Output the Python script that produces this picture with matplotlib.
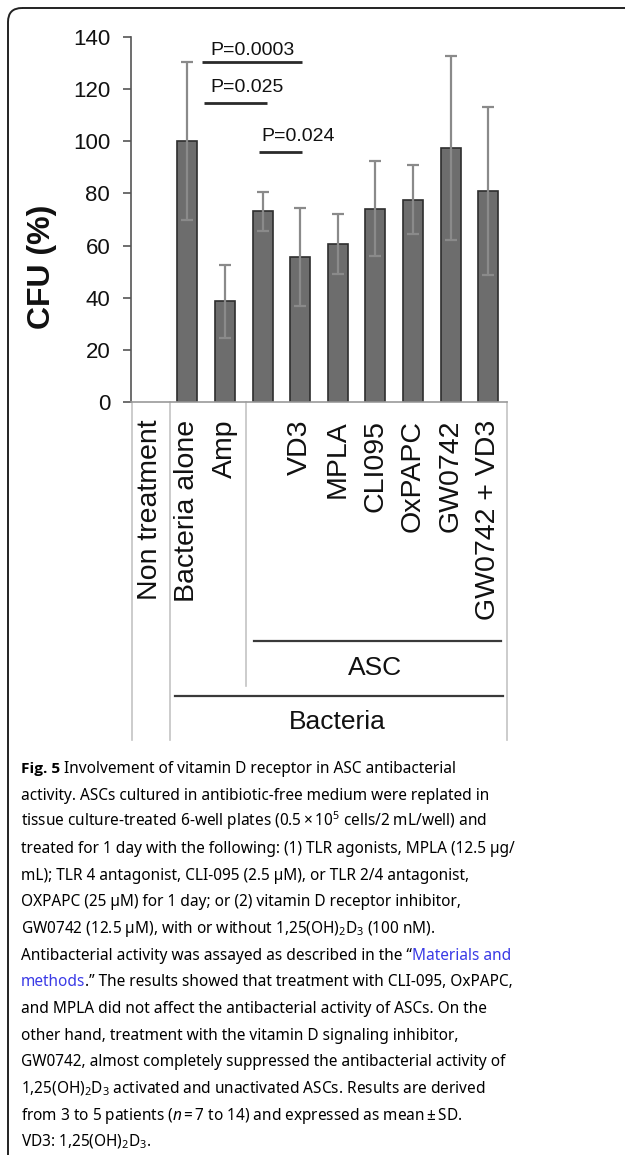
import numpy as np
import matplotlib
matplotlib.use('Agg')
import matplotlib.pyplot as plt
from matplotlib.patches import FancyBboxPatch

plt.rcParams['font.family'] = ['Liberation Sans', 'DejaVu Sans']
plt.rcParams['mathtext.fontset'] = 'custom'
plt.rcParams['mathtext.rm'] = 'Noto Sans'
plt.rcParams['mathtext.it'] = 'Noto Sans:italic'

# data
categories = ['Non treatment', 'Bacteria alone', 'Amp', '', 'VD3', 'MPLA',
              'CLI095', 'OxPAPC', 'GW0742', 'GW0742 + VD3']
cfu_mean = [np.nan, 100.0, 38.6, 73.1, 55.7, 60.6, 74.2, 77.6, 97.3, 80.8]
cfu_sd = [np.nan, 30.2, 14.0, 7.4, 18.7, 11.5, 18.2, 13.1, 35.3, 32.1]
yticks = [0, 20, 40, 60, 80, 100, 120, 140]

p_labels = ['P=0.0003', 'P=0.025', 'P=0.024']
p_left = [1.38, 1.44, 2.90]
p_right = [4.04, 3.11, 4.04]
p_line_y = [130.2, 114.5, 96.0]
p_text_x = [2.74, 2.58, 3.94]
p_text_y = [134.9, 120.5, 101.9]

blue = '#3a3ae6'
caption = [
    [('Fig. 5', 'bold', 'k'), (' Involvement of vitamin D receptor in ASC antibacterial', 'normal', 'k')],
    [('activity. ASCs cultured in antibiotic-free medium were replated in', 'normal', 'k')],
    [('tissue culture-treated 6-well plates (0.5\u2009\u00d7\u200910$^5$ cells/2 mL/well) and', 'normal', 'k')],
    [('treated for 1 day with the following: (1) TLR agonists, MPLA (12.5 \u00b5g/', 'normal', 'k')],
    [('mL); TLR 4 antagonist, CLI-095 (2.5 \u00b5M), or TLR 2/4 antagonist,', 'normal', 'k')],
    [('OXPAPC (25 \u00b5M) for 1 day; or (2) vitamin D receptor inhibitor,', 'normal', 'k')],
    [('GW0742 (12.5 \u00b5M), with or without 1,25(OH)$_2$D$_3$ (100 nM).', 'normal', 'k')],
    [('Antibacterial activity was assayed as described in the \u201c', 'normal', 'k'), ('Materials and', 'normal', blue)],
    [('methods', 'normal', blue), ('.\u201d The results showed that treatment with CLI-095, OxPAPC,', 'normal', 'k')],
    [('and MPLA did not affect the antibacterial activity of ASCs. On the', 'normal', 'k')],
    [('other hand, treatment with the vitamin D signaling inhibitor,', 'normal', 'k')],
    [('GW0742, almost completely suppressed the antibacterial activity of', 'normal', 'k')],
    [('1,25(OH)$_2$D$_3$ activated and unactivated ASCs. Results are derived', 'normal', 'k')],
    [('from 3 to 5 patients ($n$\u2009=\u20097 to 14) and expressed as mean\u2009\u00b1\u2009SD.', 'normal', 'k')],
    [('VD3: 1,25(OH)$_2$D$_3$.', 'normal', 'k')],
]

fig = plt.figure(figsize=(6.25, 11.55), dpi=100)
ax = fig.add_axes([131 / 625, 1 - 402.3 / 1155, 376 / 625, 365.6 / 1155])

x = np.arange(len(categories))
ax.bar(x, cfu_mean, width=0.53, color='#6d6d6d', edgecolor='#2e2e2e', linewidth=1.2, zorder=2)
ax.errorbar(x, cfu_mean, yerr=cfu_sd, fmt='none', ecolor='#8a8a8a', elinewidth=1.6,
            capsize=4, capthick=1.6, zorder=3)

ax.set_xlim(-0.5, 9.5)
ax.set_ylim(0, 140)
ax.set_yticks(yticks)
ax.spines['top'].set_visible(False)
ax.spines['right'].set_visible(False)
ax.spines['left'].set_color('#555555')
ax.spines['left'].set_linewidth(1.2)
ax.spines['bottom'].set_color('#9a9a9a')
ax.spines['bottom'].set_linewidth(1.2)
ax.tick_params(axis='y', length=6, width=1.2, color='#555555', labelsize=16, pad=9,
               labelcolor='#111111')
ax.tick_params(axis='x', length=0, labelbottom=False)
ax.set_ylabel('CFU (%)', fontsize=23, fontweight='bold', color='#111111')
ax.yaxis.label.set_va('center')
ax.yaxis.set_label_coords(-0.237, 0.37)

# significance brackets
for xl, xr, ly, lab, tx, ty in zip(p_left, p_right, p_line_y, p_labels, p_text_x, p_text_y):
    ax.plot([xl, xr], [ly, ly], color='#2a2a2a', lw=2, solid_capstyle='butt', zorder=4)
    ax.text(tx, ty, lab, fontsize=14, ha='center', va='center', color='#111111')

# category table below the axis
tr = ax.get_xaxis_transform()
for i, lab in enumerate(categories):
    ax.text(i, -0.048, lab, rotation=90, ha='center', va='top', fontsize=20.5,
            color='#111111', transform=tr)
for xv, y_end in [(-0.47, -0.923), (0.55, -0.923), (2.55, -0.775), (9.5, -0.923)]:
    ax.plot([xv, xv], [0, y_end], transform=tr, clip_on=False, color='#c4c4c4', lw=1.2)
ax.plot([2.77, 9.33], [-0.6517, -0.6517], transform=tr, clip_on=False, color='#3a3a3a', lw=1.6)
ax.plot([0.66, 9.39], [-0.8024, -0.8024], transform=tr, clip_on=False, color='#3a3a3a', lw=1.6)
ax.text(6.0, -0.7266, 'ASC', fontsize=19, ha='center', va='center', color='#111111', transform=tr)
ax.text(5.0, -0.874, 'Bacteria', fontsize=19, ha='center', va='center', color='#111111', transform=tr)

# overlay in pixel units for frame and caption
over = fig.add_axes([0, 0, 1, 1], zorder=-1)
over.set_xlim(0, 625)
over.set_ylim(1155, 0)
over.axis('off')
over.add_patch(FancyBboxPatch((8, 8), 800, 1400, boxstyle='round,pad=0,rounding_size=14',
                              fc='none', ec='#222222', lw=1.4))

renderer = fig.canvas.get_renderer()
cap_family = ['Noto Sans', 'DejaVu Sans']
bold_family = ['Open Sans', 'Liberation Sans', 'DejaVu Sans']
probe = over.text(0, 0, caption[1][0][0], fontsize=12, family=cap_family)
size = 12 * 467 / probe.get_window_extent(renderer).width
probe.remove()

for i, pieces in enumerate(caption):
    y = 773 + i * 26.67
    xpos = 21
    for txt, weight, col in pieces:
        fam = bold_family if weight == 'bold' else cap_family
        t = over.text(xpos, y, txt, fontsize=size, fontweight=weight, color=col,
                      ha='left', va='baseline', family=fam)
        xpos += t.get_window_extent(renderer).width

fig.savefig('out.png', dpi=100)
